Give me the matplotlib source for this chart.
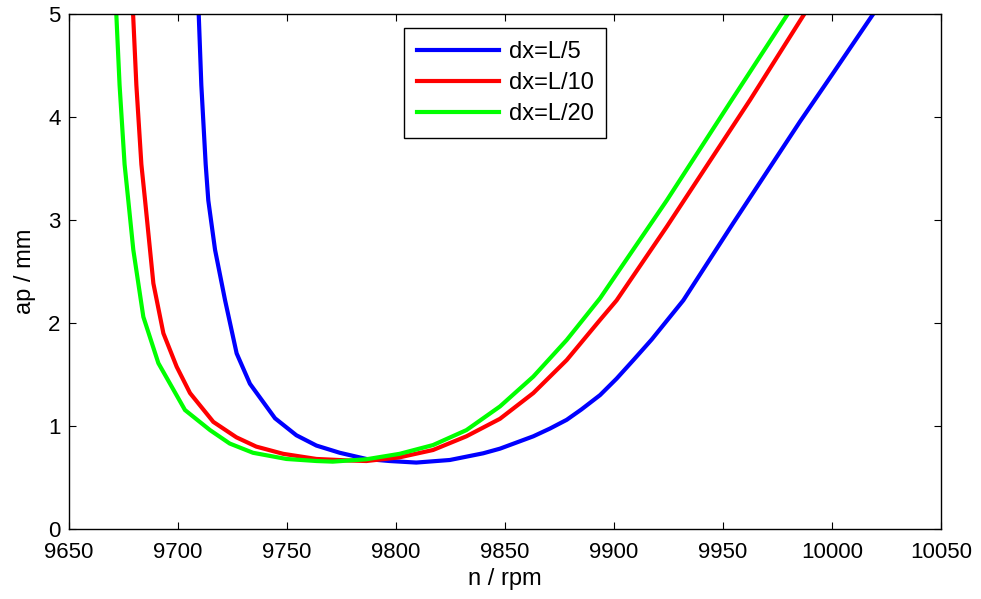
import matplotlib
matplotlib.use("Agg")
import matplotlib.pyplot as plt

plt.rcParams['font.family'] = ['Liberation Sans', 'DejaVu Sans']

# dx = L/5
n_L5 = [9709.5, 9710.7, 9712.7, 9713.9, 9717.0, 9721.6, 9726.9, 9733.0, 9744.5,
        9754.3, 9763.5, 9774.2, 9786.4, 9797.0, 9809.3, 9824.7, 9840.0, 9847.7,
        9863.0, 9870.6, 9878.3, 9885.0, 9893.6, 9901.2, 9908.9, 9917.3, 9931.8,
        9954.7, 9985.3, 10000.0, 10018.9]
ap_L5 = [5.0, 4.31, 3.54, 3.19, 2.71, 2.22, 1.705, 1.41, 1.075,
         0.91, 0.81, 0.74, 0.68, 0.66, 0.645, 0.67, 0.735, 0.78,
         0.90, 0.975, 1.06, 1.16, 1.30, 1.46, 1.64, 1.84, 2.22,
         2.97, 3.955, 4.41, 5.0]

# dx = L/10
n_L10 = [9679.4, 9680.9, 9683.2, 9684.9, 9688.7, 9693.3, 9699.4, 9705.5, 9716.2,
         9726.8, 9735.9, 9748.2, 9763.5, 9778.7, 9786.4, 9801.7, 9817.0, 9832.3,
         9847.7, 9863.0, 9878.3, 9893.6, 9901.2, 9924.2, 9962.4, 9987.3]
ap_L10 = [5.0, 4.31, 3.54, 3.19, 2.385, 1.90, 1.575, 1.32, 1.04,
          0.89, 0.80, 0.73, 0.68, 0.665, 0.66, 0.696, 0.767, 0.90,
          1.07, 1.32, 1.64, 2.03, 2.22, 2.935, 4.165, 5.0]

# dx = L/20
n_L20 = [9671.7, 9673.2, 9675.5, 9677.2, 9679.5, 9684.1, 9691.0, 9703.2, 9714.7,
         9723.7, 9734.4, 9749.7, 9763.5, 9771.0, 9786.4, 9801.7, 9817.0, 9832.3,
         9847.7, 9863.0, 9878.3, 9893.6, 9924.2, 9954.0, 9979.7]
ap_L20 = [5.0, 4.31, 3.54, 3.19, 2.71, 2.06, 1.61, 1.155, 0.96,
          0.83, 0.74, 0.68, 0.66, 0.654, 0.677, 0.73, 0.815, 0.96,
          1.19, 1.48, 1.835, 2.24, 3.19, 4.165, 5.0]

labels = ['dx=L/5', 'dx=L/10', 'dx=L/20']
colors = ['#0000ff', '#ff0000', '#00ff00']
xticks = list(range(9650, 10051, 50))
yticks = [0, 1, 2, 3, 4, 5]

fig = plt.figure(figsize=(9.81, 5.99), dpi=100)
ax = fig.add_axes([69/981, 70/599, 872/981, 515/599])

for xs, ys, lab, c in zip([n_L5, n_L10, n_L20], [ap_L5, ap_L10, ap_L20], labels, colors):
    ax.plot(xs, ys, color=c, lw=3, label=lab, solid_joinstyle='miter')

ax.set_xlim(9650, 10050)
ax.set_ylim(0, 5)
ax.set_xticks(xticks)
ax.set_yticks(yticks)
ax.tick_params(direction='in', top=True, right=True, length=5, width=0.8,
               labelsize=16)
ax.tick_params(axis='x', pad=9)
ax.tick_params(axis='y', pad=6)
for s in ax.spines.values():
    s.set_linewidth(1.0)
ax.set_xlabel('n / rpm', fontsize=17, labelpad=4)
ax.set_ylabel('ap / mm', fontsize=17, labelpad=9)

leg = ax.legend(loc='upper center', fontsize=17, frameon=True, fancybox=False,
                edgecolor='black', framealpha=1, handlelength=3.5,
                borderaxespad=0.6, borderpad=0.55, labelspacing=0.38,
                handletextpad=0.4)
leg.get_frame().set_linewidth(1.0)

fig.savefig('out.png', dpi=100)
